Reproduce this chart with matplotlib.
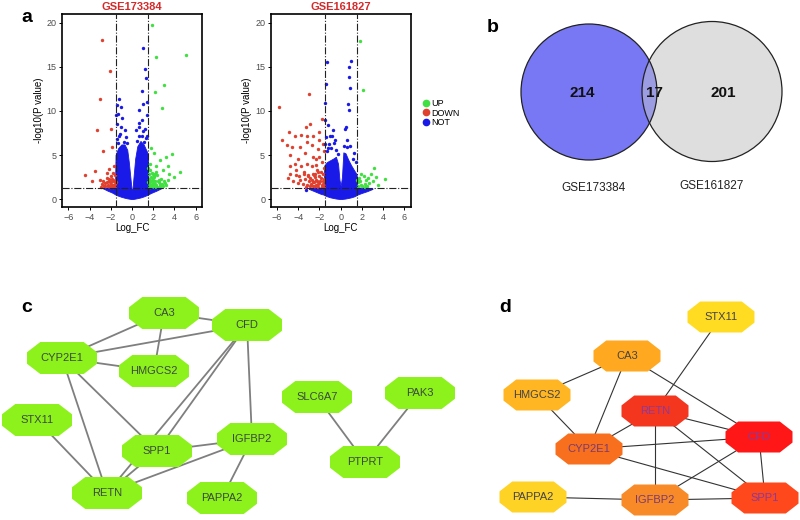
import matplotlib.pyplot as plt
from matplotlib.patches import Polygon, Circle
from matplotlib.lines import Line2D

plt.rcParams['font.family'] = ['Liberation Sans', 'DejaVu Sans']

# ---------------- volcano data ----------------
datasets = ["GSE173384", "GSE161827"]
fc_cut = 1.5
p_cut = 1.3
legend_labels = ["UP", "DOWN", "NOT"]
legend_colors = ["#3FE03F", "#E0402E", "#1A1AE8"]

# dense "NOT" cloud outline: log FC, upper edge, lower edge
cloud1_fc = [-2.8, -2.3, -1.9, -1.6, -1.55, -1.3, -1.0, -0.7, -0.45, -0.3, -0.15, -0.05, 0.0,
             0.05, 0.15, 0.3, 0.5, 0.8, 1.1, 1.4, 1.5, 1.55, 1.9, 2.3, 2.8]
cloud1_top = [1.3, 1.3, 1.3, 1.3, 5.0, 5.8, 6.2, 6.2, 5.6, 4.2, 2.4, 1.2, 0.9,
              1.2, 2.6, 4.6, 6.0, 6.6, 6.2, 5.4, 5.0, 1.3, 1.3, 1.3, 1.3]
cloud1_bot = [1.25, 0.95, 0.75, 0.55, 0.5, 0.38, 0.25, 0.15, 0.08, 0.05, 0.02, 0.0, 0.0,
              0.0, 0.02, 0.05, 0.1, 0.18, 0.3, 0.45, 0.5, 0.55, 0.75, 0.95, 1.25]

cloud2_fc = [-3.0, -2.4, -1.9, -1.6, -1.55, -1.3, -1.0, -0.7, -0.45, -0.25, -0.12, 0.0,
             0.12, 0.25, 0.45, 0.7, 1.0, 1.3, 1.5, 1.55, 2.0, 2.5, 3.0]
cloud2_top = [1.2, 1.3, 1.3, 1.3, 3.8, 4.2, 4.4, 4.6, 4.8, 4.0, 2.2, 1.5,
              2.5, 5.3, 5.2, 4.5, 3.8, 3.2, 2.8, 1.3, 1.3, 1.3, 1.2]
cloud2_bot = [1.15, 0.85, 0.6, 0.5, 0.45, 0.32, 0.2, 0.12, 0.06, 0.03, 0.01, 0.0,
              0.01, 0.03, 0.06, 0.12, 0.2, 0.32, 0.45, 0.5, 0.7, 0.9, 1.15]

up1 = [(1.9, 19.8), (5.1, 16.4), (2.3, 16.1), (3.0, 13.0), (2.2, 12.1), (2.8, 10.3),
       (3.8, 5.1), (3.2, 4.8), (4.5, 3.1), (1.8, 5.8), (2.1, 5.2), (2.6, 4.4), (3.4, 3.7),
       (2.3, 3.7), (2.9, 3.3), (3.5, 2.9), (4.0, 2.5), (2.0, 2.9), (1.6, 1.5), (1.7, 2.0),
       (1.8, 1.6), (1.9, 2.4), (2.0, 1.8), (2.1, 1.4), (2.2, 2.1), (2.3, 1.6), (2.4, 2.7),
       (2.5, 1.9), (2.6, 1.5), (2.7, 2.3), (2.8, 1.7), (3.0, 2.0), (3.2, 1.6), (3.4, 2.2),
       (1.6, 2.8), (1.7, 3.3), (1.9, 3.0), (2.1, 2.6), (2.3, 3.1), (1.65, 1.4), (1.75, 2.5),
       (2.0, 2.2), (2.4, 1.4), (1.55, 1.9), (1.85, 1.45), (2.15, 1.7), (2.55, 2.2),
       (2.9, 1.5), (3.1, 1.8), (1.7, 4.0), (1.6, 2.3), (1.8, 2.1), (1.95, 1.6), (2.05, 2.5),
       (2.25, 1.45), (2.45, 2.0), (2.65, 1.75), (1.55, 3.5), (1.7, 1.7), (2.2, 2.9)]
down1 = [(-2.8, 18.0), (-2.1, 14.5), (-3.0, 11.4), (-3.3, 7.8), (-2.0, 8.0), (-2.7, 5.4),
         (-1.9, 5.9), (-4.4, 2.7), (-3.5, 3.2), (-3.0, 2.2), (-3.8, 2.0), (-1.6, 1.5),
         (-1.7, 2.0), (-1.8, 1.6), (-1.9, 2.3), (-2.0, 1.7), (-2.1, 1.4), (-2.2, 2.0),
         (-2.3, 1.6), (-2.4, 2.4), (-2.5, 1.8), (-2.6, 1.5), (-2.7, 2.1), (-2.8, 1.7),
         (-2.9, 1.4), (-1.65, 2.7), (-1.8, 3.0), (-2.0, 2.6), (-2.2, 3.4), (-1.7, 3.8),
         (-2.4, 3.0), (-1.55, 1.9), (-1.95, 1.45), (-2.15, 2.3), (-1.6, 2.2), (-1.75, 1.4),
         (-1.85, 2.0), (-2.05, 1.9), (-2.25, 1.45), (-2.35, 1.9), (-2.55, 1.45), (-1.65, 1.7)]
not1 = [(1.0, 17.1), (1.2, 14.8), (0.9, 12.3), (1.3, 13.7), (-1.2, 11.4), (-1.4, 10.7),
        (-1.3, 9.7), (-1.0, 10.5), (0.7, 10.1), (0.9, 9.0), (-1.0, 8.2), (-0.7, 7.8),
        (0.66, 8.2), (1.0, 7.7), (-1.2, 7.1), (0.7, 7.1), (-0.8, 6.5), (1.1, 6.5),
        (-1.45, 8.5), (1.45, 9.5), (1.45, 11.0), (-0.5, 6.4), (0.5, 6.6), (-1.4, 6.8),
        (-1.1, 7.4), (-0.6, 7.0), (0.4, 7.8), (0.7, 8.6), (1.2, 8.0), (1.4, 7.2),
        (-1.5, 9.5), (-0.9, 9.2), (1.0, 10.8), (-1.3, 6.4), (1.3, 6.9), (0.9, 7.2)]

up2 = [(1.8, 17.9), (2.1, 12.4), (2.9, 2.9), (3.1, 3.5), (4.2, 2.3), (2.4, 2.2), (1.9, 2.9),
       (3.3, 2.5), (2.7, 1.8), (2.25, 1.7), (1.8, 2.0), (3.0, 2.0), (1.6, 1.5), (2.0, 1.45),
       (2.5, 1.5), (1.7, 2.4), (2.2, 2.6), (3.5, 1.6), (2.6, 2.4), (1.65, 1.9), (1.9, 1.6),
       (2.3, 1.4), (1.55, 2.2)]
down2 = [(-5.8, 10.5), (-3.0, 11.9), (-3.3, 8.2), (-2.9, 8.5), (-1.8, 9.1), (-5.5, 6.7),
         (-4.9, 7.6), (-4.3, 7.1), (-3.7, 7.3), (-3.2, 7.1), (-2.6, 7.1), (-2.0, 7.6),
         (-4.6, 5.9), (-3.8, 5.9), (-3.2, 6.5), (-2.75, 6.1), (-2.1, 5.7), (-2.0, 6.7),
         (-5.1, 6.1), (-4.8, 5.0), (-4.0, 4.6), (-3.4, 5.2), (-2.6, 4.8), (-2.0, 4.8),
         (-4.8, 3.7), (-4.3, 4.0), (-3.7, 3.7), (-3.2, 4.0), (-2.75, 3.7), (-2.3, 3.9),
         (-4.8, 2.9), (-4.2, 2.7), (-3.5, 3.1), (-3.1, 2.7), (-2.6, 2.9), (-2.1, 3.1),
         (-3.8, 2.2), (-1.6, 1.5), (-1.7, 2.1), (-1.8, 1.6), (-1.9, 2.4), (-2.0, 1.8),
         (-2.1, 1.4), (-2.2, 2.0), (-2.3, 1.6), (-2.4, 2.5), (-2.5, 1.9), (-2.6, 1.5),
         (-2.7, 2.2), (-2.8, 1.7), (-2.9, 1.45), (-3.0, 2.0), (-3.2, 1.6), (-3.4, 2.3),
         (-3.6, 1.7), (-1.65, 2.8), (-1.85, 3.1), (-2.05, 2.6), (-2.25, 3.3), (-2.45, 2.9),
         (-1.75, 1.4), (-2.15, 1.75), (-2.35, 2.2), (-2.55, 2.7), (-3.1, 2.6), (-3.5, 2.9),
         (-4.0, 1.8), (-4.5, 2.1), (-5.0, 2.4), (-4.2, 3.3), (-3.9, 2.6), (-1.6, 2.3),
         (-1.7, 1.7), (-1.95, 2.0), (-2.45, 1.45), (-2.65, 1.9), (-2.85, 2.4), (-3.3, 1.4),
         (-1.55, 3.5), (-1.75, 4.2), (-2.35, 4.5), (-1.6, 5.5), (-1.7, 6.2)]
not2 = [(1.0, 15.7), (0.8, 15.0), (0.8, 13.9), (-1.3, 15.5), (0.85, 12.6), (0.7, 10.8),
        (0.75, 10.1), (0.4, 8.0), (0.5, 8.2), (-0.7, 7.8), (-1.0, 7.1), (-0.55, 6.7),
        (0.6, 6.7), (-1.4, 13.1), (-1.5, 10.9), (-1.2, 5.8), (0.9, 6.0), (-3.3, 1.0),
        (-1.3, 5.5), (-1.1, 6.2), (-0.9, 5.8), (-0.6, 6.4), (-1.4, 7.0), (-0.4, 5.6),
        (0.3, 6.0), (0.6, 5.9), (1.2, 4.6), (-1.5, 6.3), (-0.8, 7.2), (1.3, 5.2),
        (-1.45, 9.0), (-1.2, 8.4), (1.4, 4.2), (-0.3, 5.1)]

volcano = [
    (cloud1_fc, cloud1_top, cloud1_bot, up1, down1, not1),
    (cloud2_fc, cloud2_top, cloud2_bot, up2, down2, not2),
]

# ---------------- Venn data ----------------
venn_sets = ["GSE173384", "GSE161827"]
venn_counts = [214, 17, 201]

# ---------------- PPI network data ----------------
ppi_edges = [("CA3", "CFD"), ("CA3", "CYP2E1"), ("CA3", "HMGCS2"), ("CFD", "CYP2E1"),
             ("CYP2E1", "HMGCS2"), ("CYP2E1", "RETN"), ("CYP2E1", "SPP1"),
             ("STX11", "RETN"), ("CFD", "SPP1"), ("CFD", "RETN"), ("CFD", "IGFBP2"),
             ("RETN", "SPP1"), ("RETN", "IGFBP2"), ("SPP1", "IGFBP2"),
             ("IGFBP2", "PAPPA2")]
extra_edges = [("SLC6A7", "PTPRT"), ("PAK3", "PTPRT")]
hub_genes = ["STX11", "CA3", "HMGCS2", "RETN", "CFD", "CYP2E1", "PAPPA2", "IGFBP2", "SPP1"]
hub_colors = ["#FFDC22", "#FFA820", "#FFB622", "#F5361E", "#FF1616", "#F8701E",
              "#FFD226", "#F98A28", "#FF481C"]
hub_text = ["#444444", "#444444", "#444444", "#8A3A9A", "#8A3A9A", "#7A3A70",
            "#444444", "#7A3A70", "#8A3A9A"]

# layout (figure pixels)
pos_c = {"CA3": (164, 313), "CFD": (247, 325), "CYP2E1": (62, 358), "HMGCS2": (154, 371),
         "STX11": (37, 420), "SPP1": (157, 451), "IGFBP2": (252, 439), "RETN": (107, 493),
         "PAPPA2": (222, 498), "SLC6A7": (317, 397), "PTPRT": (365, 462), "PAK3": (420, 393)}
pos_d = {"STX11": (721, 317), "CA3": (627, 356), "HMGCS2": (537, 395), "RETN": (655, 411),
         "CFD": (759, 437), "CYP2E1": (589, 449), "PAPPA2": (533, 497), "IGFBP2": (655, 500),
         "SPP1": (765, 498)}


def octagon(cx, cy, w, h):
    xs = [0.5, 0.31, -0.31, -0.5, -0.5, -0.31, 0.31, 0.5]
    ys = [-0.18, -0.5, -0.5, -0.18, 0.18, 0.5, 0.5, 0.18]
    return [(cx + a * w, cy + b * h) for a, b in zip(xs, ys)]


fig = plt.figure(figsize=(8, 5.2), dpi=100)

# background axes in pixel units for b, c, d
ax0 = fig.add_axes([0, 0, 1, 1])
ax0.set_xlim(0, 800)
ax0.set_ylim(520, 0)
ax0.axis('off')

for lab, (lx, ly) in zip("abcd", [(27, 18), (493, 28), (27, 308), (505, 307)]):
    ax0.text(lx, ly, lab, fontsize=14, fontweight='bold', ha='center', va='center')

# Venn
left = Circle((589, 92), 68, facecolor="#7878F5", edgecolor='none', zorder=1)
right = Circle((712, 91.5), 70, facecolor="#DEDEDE", edgecolor='none', zorder=1)
ax0.add_patch(right)
ax0.add_patch(left)
inter = Circle((589, 92), 68, facecolor="#9C9CE2", edgecolor='none', zorder=2)
ax0.add_patch(inter)
inter.set_clip_path(Circle((712, 91.5), 70, transform=ax0.transData))
ax0.add_patch(Circle((589, 92), 68, fill=False, edgecolor='#222222', lw=0.9, zorder=3))
ax0.add_patch(Circle((712, 91.5), 70, fill=False, edgecolor='#222222', lw=0.9, zorder=3))
for (tx, ty), n in zip([(582, 93), (654, 93), (723, 93)], venn_counts):
    ax0.text(tx, ty, str(n), fontsize=11, fontweight='bold', ha='center', va='center',
             color='#111111', zorder=4)
for (tx, ty), s in zip([(593, 188), (712, 186)], venn_sets):
    ax0.text(tx, ty, s, fontsize=8.5, ha='center', va='center', color='#222222')

# network c
for a, b in ppi_edges + extra_edges:
    (x1, y1), (x2, y2) = pos_c[a], pos_c[b]
    ax0.plot([x1, x2], [y1, y2], color='#7F7F7F', lw=1.3, zorder=1)
for g, (x, y) in pos_c.items():
    ax0.add_patch(Polygon(octagon(x, y, 70, 32), closed=True, facecolor="#8DF21C",
                          edgecolor='none', zorder=2))
    ax0.text(x, y, g, fontsize=8, ha='center', va='center', color='#3A4A3A', zorder=3)

# network d
for a, b in ppi_edges:
    (x1, y1), (x2, y2) = pos_d[a], pos_d[b]
    ax0.plot([x1, x2], [y1, y2], color='#333333', lw=0.8, zorder=1)
for g, c, tc in zip(hub_genes, hub_colors, hub_text):
    x, y = pos_d[g]
    ax0.add_patch(Polygon(octagon(x, y, 67, 31), closed=True, facecolor=c,
                          edgecolor='none', zorder=2))
    ax0.text(x, y, g, fontsize=8, ha='center', va='center', color=tc, zorder=3)

# volcano plots
lefts = [62 / 800, 270.7 / 800]
for i, (name, data) in enumerate(zip(datasets, volcano)):
    cfc, ctop, cbot, up, down, nt = data
    ax = fig.add_axes([lefts[i], 1 - 207 / 520, 140 / 800, 193 / 520])
    ax.fill_between(cfc, cbot, ctop, color=legend_colors[2], lw=0.6,
                    edgecolor=legend_colors[2], zorder=1)
    for pts, col in zip([up, down, nt], legend_colors):
        ax.scatter([p[0] for p in pts], [p[1] for p in pts], s=6, color=col, lw=0, zorder=2)
    ax.axvline(-fc_cut, color='#222222', ls='-.', lw=0.8, zorder=3)
    ax.axvline(fc_cut, color='#222222', ls='-.', lw=0.8, zorder=3)
    ax.axhline(p_cut, color='#222222', ls='-.', lw=0.8, zorder=3)
    ax.set_xlim(-6.6, 6.6)
    ax.set_ylim(-0.9, 21)
    ax.set_xticks(range(-6, 7, 2))
    ax.set_yticks([0, 5, 10, 15, 20])
    ax.tick_params(labelsize=6.5, labelcolor='#4D4D4D', length=2.5, width=0.7, pad=1.5)
    for sp in ax.spines.values():
        sp.set_linewidth(1.2)
    ax.set_title(name, color='#D42A2A', fontsize=8, fontweight='bold', pad=3)
    ax.set_xlabel('Log_FC', fontsize=7, labelpad=1)
    ax.set_ylabel('-log10(P value)', fontsize=7, labelpad=2)

handles = [Line2D([], [], marker='o', ls='none', color=c, markersize=4.5) for c in legend_colors]
fig.legend(handles, legend_labels, loc='center left', bbox_to_anchor=(417 / 800, 1 - 113 / 520),
           frameon=False, fontsize=6.5, handletextpad=0.1, labelspacing=0.05,
           handlelength=1.0, borderpad=0)

fig.savefig('out.png', dpi=100)
